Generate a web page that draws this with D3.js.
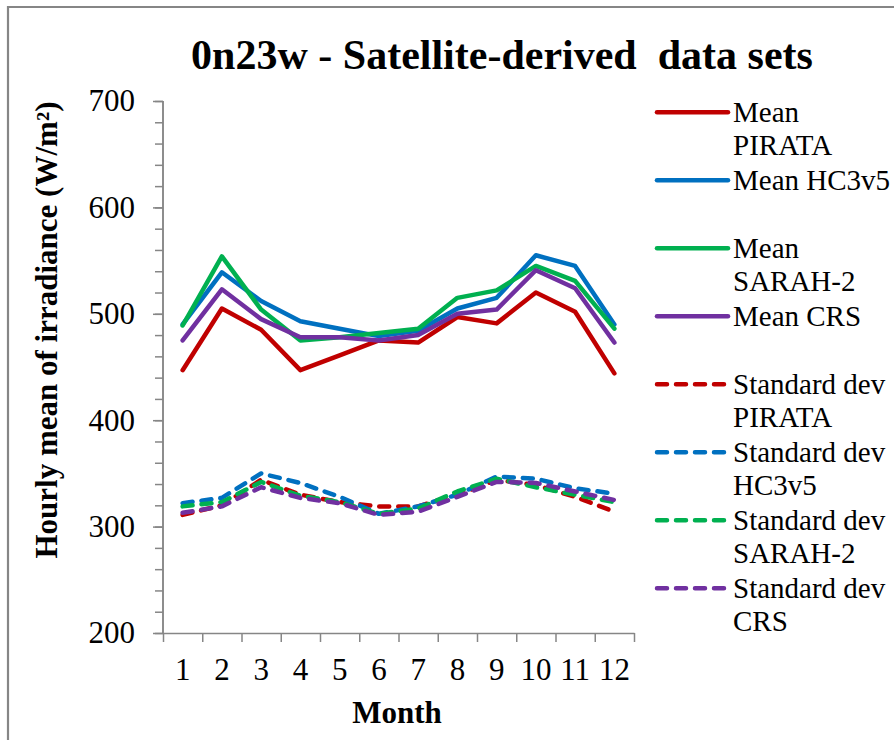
<!DOCTYPE html>
<html>
<head>
<meta charset="utf-8">
<script src="https://cdn.jsdelivr.net/npm/d3@7"></script>
<style>
  html, body { margin: 0; padding: 0; background: #fff; }
  svg { display: block; }
</style>
</head>
<body>
<svg id="chart" width="894" height="740"></svg>
<script>
// Monthly hourly-mean irradiance at buoy 0n23w (W/m²)
const months = ["1", "2", "3", "4", "5", "6", "7", "8", "9", "10", "11", "12"];

const meanPIRATA = [447, 505, 485, 447, 461, 475, 473, 497, 491, 520, 502, 444];
const meanHC3v5  = [490, 539, 512, 493, 486, 479, 484, 505, 515, 555, 545, 490];
const meanSARAH2 = [489, 554, 504, 475, 478, 482, 486, 515, 522, 545, 531, 486];
const meanCRS    = [475, 523, 495, 478, 478, 475, 480, 500, 504, 541, 524, 473];

const sdPIRATA = [311, 320, 344, 330, 323, 319, 319, 330, 344, 339, 328, 314];
const sdHC3v5  = [322, 327, 350, 341, 328, 312, 319, 330, 347, 345, 336, 331];
const sdSARAH2 = [319, 323, 342, 329, 323, 312, 317, 333, 345, 337, 330, 323];
const sdCRS    = [313, 319, 337, 327, 322, 311, 314, 328, 342, 341, 333, 325];

const seriesValues = [meanPIRATA, meanHC3v5, meanSARAH2, meanCRS, sdPIRATA, sdHC3v5, sdSARAH2, sdCRS];
const seriesLabels = [
  ["Mean", "PIRATA"], ["Mean HC3v5"], ["Mean", "SARAH-2"], ["Mean CRS"],
  ["Standard dev", "PIRATA"], ["Standard dev", "HC3v5"], ["Standard dev", "SARAH-2"], ["Standard dev", "CRS"]
];
const seriesColors = ["#C00000", "#0070C0", "#00B050", "#7030A0", "#C00000", "#0070C0", "#00B050", "#7030A0"];
const seriesDashed = [false, false, false, false, true, true, true, true];

const yMajorTicks = [200, 300, 400, 500, 600, 700];
const yMinorTicks = d3.range(200, 701, 20);

const titleText = "0n23w - Satellite-derived  data sets";
const yTitle = "Hourly mean of irradiance (W/m²)";
const xTitle = "Month";

const serif = "'Liberation Serif', 'Times New Roman', serif";
const svg = d3.select("#chart").style("font-family", serif);
const axisGrey = "#868686";

// outer frame (top and left edges)
svg.append("path")
  .attr("d", "M8,740 V7 H894")
  .attr("fill", "none").attr("stroke", axisGrey).attr("stroke-width", 2.2);

const plot = { left: 163, right: 634, top: 101, bottom: 633 };

const x = d3.scaleBand().domain(months).range([plot.left, plot.right]).padding(0);
const xEdges = d3.scaleLinear().domain([0, months.length]).range([plot.left, plot.right]);
const y = d3.scaleLinear().domain([200, 700]).range([plot.bottom, plot.top]);

// y axis: minor ticks then major ticks with labels
const gyMinor = svg.append("g").attr("transform", `translate(${plot.left},0)`)
  .call(d3.axisLeft(y).tickValues(yMinorTicks).tickSize(8).tickFormat(""));
const gy = svg.append("g").attr("transform", `translate(${plot.left},0)`)
  .call(d3.axisLeft(y).tickValues(yMajorTicks).tickSize(10).tickPadding(18).tickFormat(d3.format("d")));
[gyMinor, gy].forEach(g => {
  g.attr("font-family", null).attr("font-size", null);
  g.selectAll("path, line").attr("stroke", axisGrey).attr("stroke-width", 1.5);
  g.select(".domain").attr("d", `M-0,${plot.top}H0V${plot.bottom}H-0`);
});
gy.selectAll("text").style("font-family", serif).style("font-size", "31px").attr("fill", "#000").attr("dy", "0.32em");

// x axis: category boundary ticks and centred month labels
const gxEdges = svg.append("g").attr("transform", `translate(0,${plot.bottom})`)
  .call(d3.axisBottom(xEdges).tickValues(d3.range(0, months.length + 1)).tickSize(9).tickSizeOuter(0).tickFormat(""));
gxEdges.selectAll("path, line").attr("stroke", axisGrey).attr("stroke-width", 1.5);
const gx = svg.append("g").attr("transform", `translate(0,${plot.bottom})`)
  .call(d3.axisBottom(x).tickSize(0).tickPadding(25));
gx.attr("font-family", null).attr("font-size", null);
gx.select(".domain").remove();
gx.selectAll("text").style("font-family", serif).style("font-size", "31px").attr("fill", "#000");

// series lines
const line = d3.line()
  .x((d, i) => x(months[i]) + x.bandwidth() / 2)
  .y(d => y(d));

seriesValues.forEach((vals, k) => {
  svg.append("path")
    .datum(vals)
    .attr("d", line)
    .attr("fill", "none")
    .attr("stroke", seriesColors[k])
    .attr("stroke-width", 4.5)
    .attr("stroke-linejoin", "round")
    .attr("stroke-linecap", "round")
    .attr("stroke-dasharray", seriesDashed[k] ? "10,9" : null);
});

// legend
const legend = svg.append("g");
const legendTop = 112.3, legendStep = 68, lineHeight = 33.5;
seriesLabels.forEach((lines, k) => {
  const ly = legendTop + k * legendStep;
  legend.append("line")
    .attr("x1", 657).attr("x2", 728).attr("y1", ly).attr("y2", ly)
    .attr("stroke", seriesColors[k]).attr("stroke-width", 4.5)
    .attr("stroke-linecap", "round")
    .attr("stroke-dasharray", seriesDashed[k] ? "10,9" : null);
  const t = legend.append("text").attr("x", 733).attr("y", ly + 9.5)
    .style("font-family", serif).style("font-size", "29px").attr("fill", "#000");
  lines.forEach((s, j) => {
    t.append("tspan").attr("x", 733).attr("y", ly + 9.5 + j * lineHeight).text(s);
  });
});

// titles
svg.append("text")
  .attr("x", 502).attr("y", 69)
  .attr("text-anchor", "middle")
  .style("font-family", serif).style("font-size", "42px").style("font-weight", "bold")
  .style("white-space", "pre")
  .text(titleText);

svg.append("text")
  .attr("transform", "translate(57,330) rotate(-90)")
  .attr("text-anchor", "middle")
  .style("font-family", serif).style("font-size", "31px").style("font-weight", "bold")
  .text(yTitle);

svg.append("text")
  .attr("x", 397).attr("y", 723)
  .attr("text-anchor", "middle")
  .style("font-family", serif).style("font-size", "31px").style("font-weight", "bold")
  .text(xTitle);
</script>
</body>
</html>
